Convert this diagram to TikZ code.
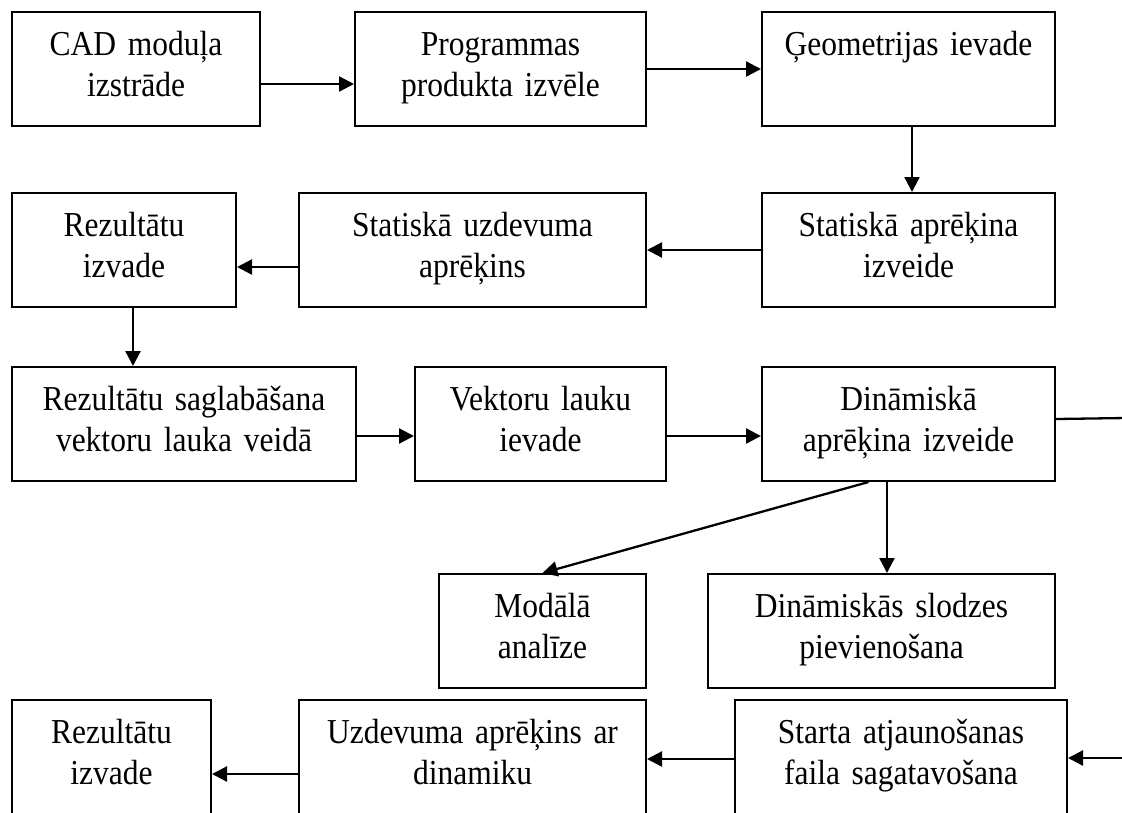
\documentclass[tikz,border=0pt]{standalone}
\usepackage{fontspec}
\setmainfont[FakeStretch=0.9]{Liberation Serif}
\usetikzlibrary{arrows.meta,calc}
\tikzset{
  box/.style={draw, line width=2pt, anchor=north west, inner xsep=0pt, inner ysep=0pt,
    align=center, text height=43pt, text depth=71pt,
    font=\fontsize{35}{41.5}\selectfont},
  arr/.style={line width=2.3pt, -{Triangle[length=15pt,width=15pt]}},
  ln/.style={line width=2.3pt}
}
\begin{document}
\begin{tikzpicture}[x=1pt,y=-1pt]
\useasboundingbox (0,0) rectangle (1122,812);
% row 1
\node[box, text width=248pt] (A) at (11,11) {CAD moduļa\\izstrāde};
\node[box, text width=291pt] (B) at (354,11) {Programmas\\produkta izvēle};
\node[box, text width=293pt] (C) at (761,11) {Ģeometrijas ievade};
% row 2
\node[box, text width=224pt] (E) at (11,192) {Rezultātu\\izvade};
\node[box, text width=347pt] (F) at (298,192) {Statiskā uzdevuma\\aprēķins};
\node[box, text width=293pt] (D) at (761,192) {Statiskā aprēķina\\izveide};
% row 3
\node[box, text width=344pt] (G) at (11,366) {Rezultātu saglabāšana\\vektoru lauka veidā};
\node[box, text width=251pt] (H) at (414,366) {Vektoru lauku\\ievade};
\node[box, text width=293pt] (I) at (761,366) {Dināmiskā\\aprēķina izveide};
% row 4
\node[box, text width=207pt] (M) at (438,573) {Modālā\\analīze};
\node[box, text width=347pt] (N) at (707,573) {Dināmiskās slodzes\\pievienošana};
% row 5
\node[box, text width=199pt] (J) at (11,699) {Rezultātu\\izvade};
\node[box, text width=347pt] (K) at (298,699) {Uzdevuma aprēķins ar\\dinamiku};
\node[box, text width=332pt] (L) at (734,699) {Starta atjaunošanas\\faila sagatavošana};
% free ends
\coordinate (Iout) at (1126,418);
\coordinate (Lin) at (1126,758);
% connectors
\draw[arr] ([yshift=-15pt]A.east) -- ([yshift=-15pt]A.east -| B.west);
\draw[arr] (B.east) -- (B.east -| C.west);
\draw[arr] ([xshift=3.5pt]C.south) -- ([xshift=3.5pt]C.south |- D.north);
\draw[arr] (D.west) -- (D.west -| F.east);
\draw[arr] ([yshift=-17pt]F.west) -- ([yshift=-17pt]F.west -| E.east);
\draw[arr] ([xshift=9pt]E.south) -- ([xshift=9pt]E.south |- G.north);
\draw[arr] ([yshift=-12pt]G.east) -- ([yshift=-12pt]G.east -| H.west);
\draw[arr] ([yshift=-12pt]H.east) -- ([yshift=-12pt]H.east -| I.west);
\draw[ln] ([yshift=5pt]I.east) -- (Iout);
\draw[arr] ([xshift=-40pt]I.south) -- (M.north);
\draw[arr] ([xshift=-21.5pt]I.south) -- ([xshift=-21.5pt]I.south |- N.north);
\draw[arr] (Lin) -- (Lin -| L.east);
\draw[arr] ([yshift=-2pt]L.west) -- ([yshift=-2pt]L.west -| K.east);
\draw[arr] ([yshift=-17pt]K.west) -- ([yshift=-17pt]K.west -| J.east);
\end{tikzpicture}
\end{document}
